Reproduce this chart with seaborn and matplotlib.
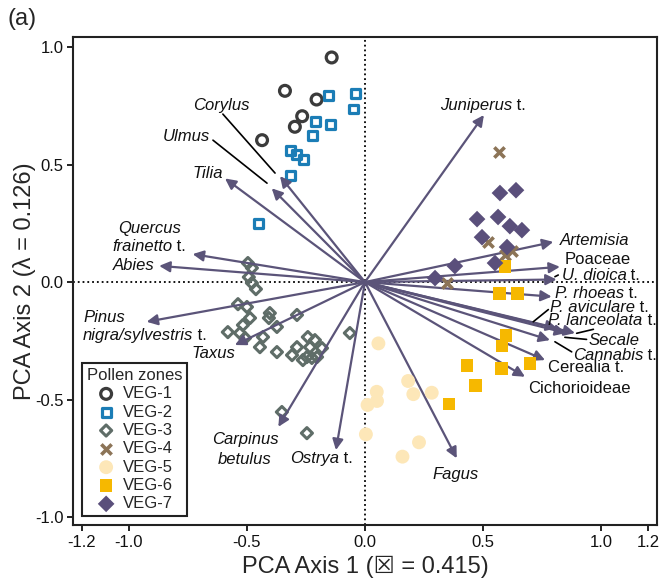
import matplotlib
matplotlib.use('Agg')
import pandas as pd
import seaborn as sns
import matplotlib.pyplot as plt

# sample scores per pollen zone
zones = ['VEG-1', 'VEG-2', 'VEG-3', 'VEG-4', 'VEG-5', 'VEG-6', 'VEG-7']

veg1_x = [-0.141, -0.339, -0.205, -0.266, -0.297, -0.436]
veg1_y = [0.956, 0.814, 0.777, 0.706, 0.661, 0.604]

veg2_x = [-0.156, -0.041, -0.050, -0.209, -0.145, -0.222, -0.314, -0.289, -0.261, -0.317, -0.452]
veg2_y = [0.794, 0.803, 0.737, 0.683, 0.670, 0.623, 0.560, 0.543, 0.522, 0.455, 0.250]

veg3_x = [-0.496, -0.479, -0.492, -0.479, -0.462, -0.538, -0.500, -0.403, -0.407, -0.288,
          -0.487, -0.517, -0.373, -0.581, -0.530, -0.064, -0.432, -0.508, -0.445, -0.242,
          -0.212, -0.288, -0.373, -0.309, -0.246, -0.182, -0.203, -0.233, -0.263, -0.225,
          -0.352, -0.246]
veg3_y = [0.081, 0.060, 0.021, -0.004, -0.030, -0.094, -0.106, -0.132, -0.153, -0.140,
          -0.153, -0.183, -0.191, -0.213, -0.217, -0.217, -0.234, -0.238, -0.277, -0.234,
          -0.247, -0.277, -0.298, -0.311, -0.319, -0.281, -0.319, -0.277, -0.332, -0.323,
          -0.553, -0.643]

veg4_x = [0.568, 0.521, 0.593, 0.623, 0.347]
veg4_y = [0.553, 0.170, 0.115, 0.132, -0.004]

veg5_x = [0.057, 0.183, 0.205, 0.283, 0.050, 0.051, 0.011, 0.004, 0.229, 0.159]
veg5_y = [-0.261, -0.421, -0.477, -0.471, -0.467, -0.506, -0.523, -0.648, -0.682, -0.743]

veg6_x = [0.593, 0.569, 0.645, 0.597, 0.581, 0.699, 0.578, 0.432, 0.468, 0.356]
veg6_y = [0.065, -0.049, -0.049, -0.226, -0.272, -0.346, -0.368, -0.355, -0.440, -0.519]

veg7_x = [0.572, 0.640, 0.475, 0.564, 0.614, 0.665, 0.496, 0.602, 0.551, 0.381, 0.297]
veg7_y = [0.379, 0.391, 0.268, 0.277, 0.238, 0.221, 0.191, 0.149, 0.081, 0.068, 0.017]

# taxa loadings (arrow tips)
taxa = ['Corylus', 'Ulmus', 'Tilia', 'Quercus frainetto t.', 'Abies', 'Pinus nigra/sylvestris t.',
        'Taxus', 'Carpinus betulus', 'Ostrya t.', 'Fagus', 'Juniperus t.', 'Artemisia', 'Poaceae',
        'U. dioica t.', 'P. rhoeas t.', 'P. aviculare t.', 'P. lanceolata t.', 'Secale',
        'Cannabis t.', 'Cerealia t.', 'Cichorioideae']
load_x = [-0.360, -0.395, -0.593, -0.730, -0.872, -0.925, -0.551, -0.367, -0.123, 0.389,
          0.504, 0.798, 0.826, 0.812, 0.791, 0.814, 0.890, 0.852, 0.784, 0.763, 0.678]
load_y = [0.451, 0.399, 0.441, 0.119, 0.069, -0.169, -0.268, -0.616, -0.715, -0.750,
          0.711, 0.171, 0.065, 0.011, -0.062, -0.196, -0.217, -0.217, -0.247, -0.332, -0.403]

# label lines: italic part, upright part, left edge / vertical centre (data units)
label_lines = [
    ('Corylus', '', -0.729, 0.753),
    ('Ulmus', '', -0.856, 0.618),
    ('Tilia', '', -0.729, 0.463),
    ('Quercus', '', -1.047, 0.229),
    ('frainetto', ' t.', -1.072, 0.150),
    ('Abies', '', -1.068, 0.069),
    ('Pinus', '', -1.191, -0.150),
    ('nigra/sylvestris', ' t.', -1.195, -0.226),
    ('Taxus', '', -0.733, -0.303),
    ('Carpinus', '', -0.648, -0.672),
    ('betulus', '', -0.623, -0.757),
    ('Ostrya', ' t.', -0.318, -0.750),
    ('Fagus', '', 0.288, -0.821),
    ('Juniperus', ' t.', 0.318, 0.753),
    ('Artemisia', '', 0.826, 0.179),
    ('', 'Poaceae', 0.847, 0.097),
    ('U. dioica', ' t.', 0.833, 0.030),
    ('P. rhoeas', ' t.', 0.805, -0.048),
    ('P. aviculare', ' t.', 0.784, -0.110),
    ('P. lanceolata', ' t.', 0.777, -0.164),
    ('Secale', '', 0.946, -0.247),
    ('Cannabis', ' t.', 0.880, -0.313),
    ('', 'Cerealia t.', 0.777, -0.365),
    ('', 'Cichorioideae', 0.692, -0.452),
]
leaders = [
    ((-0.602, 0.715), (-0.381, 0.464)),
    ((-0.644, 0.604), (-0.415, 0.421)),
    ((0.805, 0.023), (0.819, 0.030)),
    ((0.777, -0.117), (0.713, -0.169)),
    ((0.968, -0.201), (0.897, -0.218)),
    ((0.939, -0.244), (0.847, -0.235)),
    ((0.876, -0.297), (0.805, -0.254)),
]

x_ticks = [-1.2, -1.0, -0.5, 0.0, 0.5, 1.0, 1.2]
y_ticks = [-1.0, -0.5, 0.0, 0.5, 1.0]

arrow_col = '#5b5479'
styles = {
    'VEG-1': dict(marker='o', s=61, color='#3b3b3b', open=True, lw=2.3),
    'VEG-2': dict(marker='s', s=40, color='#1b7db6', open=True, lw=2.3),
    'VEG-3': dict(marker='D', s=32, color='#5f6d68', open=True, lw=2.2),
    'VEG-4': dict(marker='x', s=55, color='#8c7457', open=True, lw=2.6),
    'VEG-5': dict(marker='o', s=100, color='#fde7b8', open=False, lw=0),
    'VEG-6': dict(marker='s', s=83, color='#f6b800', open=False, lw=0),
    'VEG-7': dict(marker='D', s=72, color='#5a4f7b', open=False, lw=0),
}

sns.set_style('ticks')
plt.rcParams['font.family'] = ['Liberation Sans', 'DejaVu Sans']

fig = plt.figure(figsize=(6.65, 5.84), dpi=100)
ax = fig.add_axes([0.1098, 0.101, 0.878, 0.8356])

ax.axhline(0, color='black', ls=':', lw=1.3, zorder=1)
ax.axvline(0, color='black', ls=':', lw=1.3, zorder=1)

for name, lx, ly in zip(taxa, load_x, load_y):
    ax.annotate('', xy=(lx, ly), xytext=(0, 0), zorder=2,
                arrowprops=dict(arrowstyle='-|>', color=arrow_col, lw=1.6,
                                shrinkA=0, shrinkB=0, mutation_scale=16))

for it, rm, tx, ty in label_lines:
    if it:
        t = ax.text(tx, ty, it, style='italic', ha='left', va='center',
                    fontsize=12, color='#111111', zorder=4)
        if rm:
            ax.annotate(rm, xy=(1, 0), xycoords=t, ha='left', va='bottom',
                        fontsize=12, color='#111111', zorder=4)
    else:
        ax.text(tx, ty, rm, ha='left', va='center', fontsize=12, color='#111111', zorder=4)

for (x0, y0), (x1, y1) in leaders:
    ax.plot([x0, x1], [y0, y1], color='black', lw=1.2, zorder=2)

groups = [veg1_x, veg2_x, veg3_x, veg4_x, veg5_x, veg6_x, veg7_x]
groups_y = [veg1_y, veg2_y, veg3_y, veg4_y, veg5_y, veg6_y, veg7_y]
for zone, xs, ys in zip(zones, groups, groups_y):
    st = styles[zone]
    df = pd.DataFrame({'x': xs, 'y': ys})
    if st['marker'] == 'x':
        sns.scatterplot(data=df, x='x', y='y', ax=ax, marker='x', s=st['s'],
                        color=st['color'], linewidth=st['lw'], label=zone, zorder=3)
    elif st['open']:
        sns.scatterplot(data=df, x='x', y='y', ax=ax, marker=st['marker'], s=st['s'],
                        color=st['color'], facecolor='none', edgecolor=st['color'],
                        linewidth=st['lw'], label=zone, zorder=1.8)
    else:
        sns.scatterplot(data=df, x='x', y='y', ax=ax, marker=st['marker'], s=st['s'],
                        color=st['color'], edgecolor='none', linewidth=0,
                        label=zone, zorder=3)

ax.set_xlim(-1.237, 1.237)
ax.set_ylim(-1.034, 1.043)
ax.set_xticks(x_ticks)
ax.set_xticklabels(['%.1f' % v for v in x_ticks])
ax.set_yticks(y_ticks)
ax.set_yticklabels(['%.1f' % v for v in y_ticks])
ax.tick_params(direction='out', length=4, width=1.3, labelsize=12, pad=3, colors='#111111')
for sp in ax.spines.values():
    sp.set_linewidth(1.5)
    sp.set_color('#222222')

ax.set_xlabel('PCA Axis 1 (\u2612 = 0.415)', fontsize=17)
ax.set_ylabel('PCA Axis 2 (\u03bb = 0.126)', fontsize=17)
ax.xaxis.set_label_coords(0.5, -0.063)
ax.yaxis.set_label_coords(-0.063, 0.5)

leg = ax.legend(title='Pollen zones', loc='lower left', bbox_to_anchor=(0.015, 0.018),
                borderaxespad=0, frameon=True, fancybox=False, edgecolor='#222222',
                framealpha=1, fontsize=12, title_fontsize=12, handletextpad=0.4,
                labelspacing=0.2, borderpad=0.3, handlelength=1.2)
leg.get_frame().set_linewidth(1.5)

fig.text(0.011, 0.967, '(a)', fontsize=17, va='center', ha='left')

fig.savefig('out.png', dpi=100)
plt.close(fig)
